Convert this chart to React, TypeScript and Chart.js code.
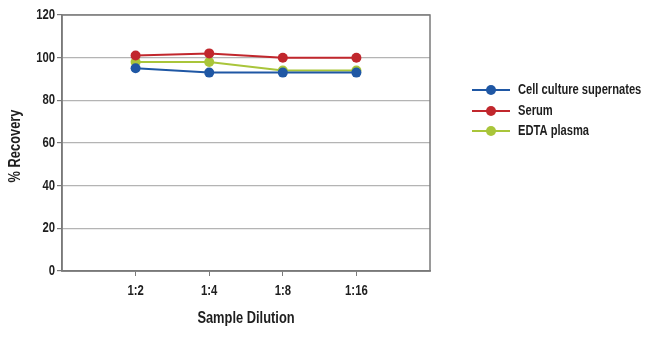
import React, { useEffect, useRef } from "react";
import { Chart, registerables } from "chart.js";

Chart.register(...registerables);

const categories = ["", "1:2", "1:4", "1:8", "1:16", ""];
const cellCulture = [null, 95, 93, 93, 93, null];
const serum = [null, 101, 102, 100, 100, null];
const edtaPlasma = [null, 98, 98, 94, 94, null];
const seriesNames = ["Cell culture supernates", "Serum", "EDTA plasma"];
const seriesColors = ["#1f57a4", "#c1272d", "#a9c53a"];
const yTicks = [0, 20, 40, 60, 80, 100, 120];
const xTitle = "Sample Dilution";
const yTitle = "% Recovery";

const FONT = "'Liberation Sans', Arial, sans-serif";
const SX = 0.78;
const TEXT = "#1e1e1e";

function condensed(ctx: any, text: string, x: number, y: number, align: string, size: number, rot = 0) {
  ctx.save();
  ctx.translate(x, y);
  if (rot) ctx.rotate(rot);
  ctx.scale(SX, 1);
  ctx.font = `bold ${size}px ${FONT}`;
  ctx.textAlign = align;
  ctx.textBaseline = "middle";
  ctx.fillStyle = TEXT;
  ctx.fillText(text, 0, 0);
  ctx.restore();
}

const textsAndLegend = {
  id: "textsAndLegend",
  afterDraw(chart: any) {
    const { ctx, chartArea } = chart;
    const xs = chart.scales.x;
    const ys = chart.scales.y;
    ctx.save();
    ctx.strokeStyle = "#7a7a7a";
    ctx.lineWidth = 1.5;
    ctx.strokeRect(chartArea.left, chartArea.top, chartArea.right - chartArea.left, chartArea.bottom - chartArea.top);
    ctx.restore();

    yTicks.forEach((v) => {
      condensed(ctx, String(v), chartArea.left - 7, ys.getPixelForValue(v), "right", 14.5);
    });
    categories.forEach((c, i) => {
      if (c) condensed(ctx, c, xs.getPixelForValue(i), chartArea.bottom + 20, "center", 14.5);
    });
    condensed(ctx, xTitle, (chartArea.left + chartArea.right) / 2, chartArea.bottom + 47, "center", 16.5);
    condensed(ctx, yTitle, 15, (chartArea.top + chartArea.bottom) / 2 + 3, "center", 16.5, -Math.PI / 2);

    const x0 = 472;
    const ly = [90, 111, 131];
    chart.data.datasets.forEach((ds: any, i: number) => {
      const y = ly[i];
      ctx.save();
      ctx.strokeStyle = ds.borderColor;
      ctx.lineWidth = 2;
      ctx.beginPath();
      ctx.moveTo(x0, y);
      ctx.lineTo(x0 + 38, y);
      ctx.stroke();
      ctx.fillStyle = ds.borderColor;
      ctx.beginPath();
      ctx.arc(x0 + 19, y, 5, 0, Math.PI * 2);
      ctx.fill();
      ctx.restore();
      condensed(ctx, ds.label, x0 + 46, y, "left", 14.3);
    });
  },
};

export default function App() {
  const ref = useRef<HTMLCanvasElement>(null);
  useEffect(() => {
    const mk = (label: string, data: any[], color: string) => ({
      label,
      data,
      borderColor: color,
      backgroundColor: color,
      borderWidth: 2,
      pointRadius: 5,
      pointHoverRadius: 5,
      pointBorderWidth: 0,
    });
    const chart = new Chart(ref.current!, {
      type: "line",
      data: {
        labels: categories,
        datasets: [
          mk(seriesNames[0], cellCulture, seriesColors[0]),
          mk(seriesNames[1], serum, seriesColors[1]),
          mk(seriesNames[2], edtaPlasma, seriesColors[2]),
        ],
      },
      options: {
        animation: false,
        responsive: false,
        layout: { padding: { left: 0, right: 220, top: 15, bottom: 0 } },
        plugins: { legend: { display: false }, tooltip: { enabled: false } },
        scales: {
          x: {
            offset: false,
            afterFit: (s: any) => { s.height = 67; },
            grid: {
              drawOnChartArea: false,
              drawTicks: true,
              tickLength: 5,
              color: "#7a7a7a",
              tickColor: (c: any) => (categories[c.index] ? "#7a7a7a" : "rgba(0,0,0,0)"),
            },
            border: { display: true, color: "#7a7a7a", width: 1.5 },
            ticks: { display: false, autoSkip: false },
          },
          y: {
            min: 0,
            max: 120,
            afterFit: (s: any) => { s.width = 62; },
            afterBuildTicks: (s: any) => { s.ticks = yTicks.map((v) => ({ value: v })); },
            grid: { color: "#b4b4b4", lineWidth: 1.2, tickLength: 5, tickColor: "#7a7a7a" },
            border: { display: true, color: "#7a7a7a", width: 1.5 },
            ticks: { display: false },
          },
        },
      },
      plugins: [textsAndLegend],
    } as any);
    return () => chart.destroy();
  }, []);
  return (
    <div style={{ position: "absolute", left: 0, top: 0, width: 650, height: 338, background: "#fff" }}>
      <canvas ref={ref} width={650} height={338} />
    </div>
  );
}
